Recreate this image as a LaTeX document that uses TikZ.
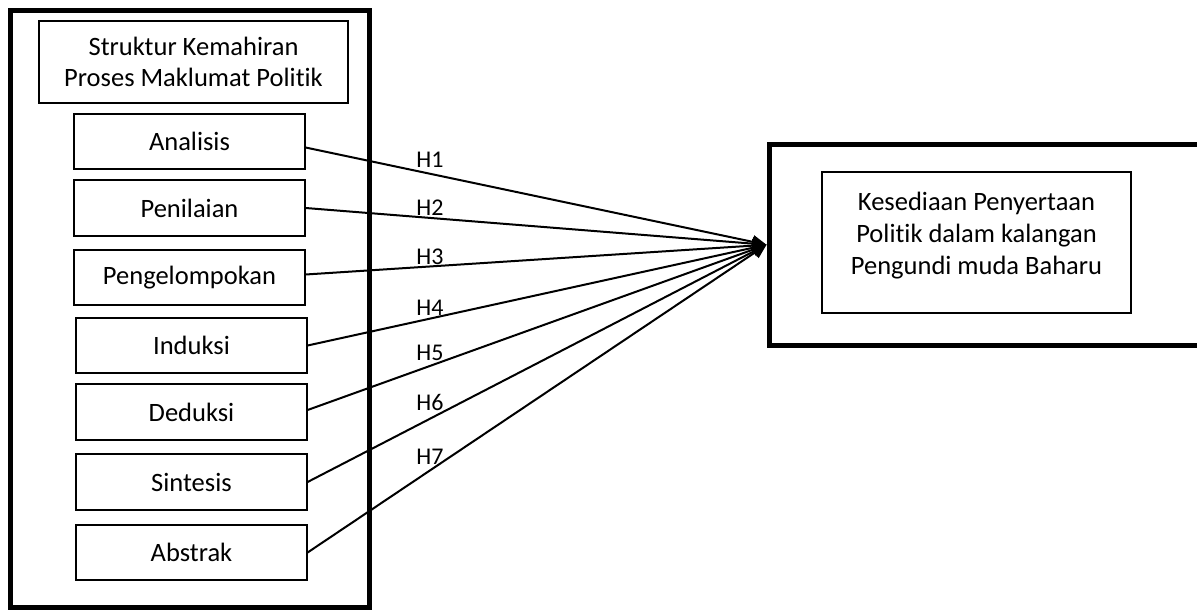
\documentclass[tikz,border=0pt]{standalone}
\usepackage{fontspec}
\setmainfont{Carlito}[Ligatures={NoCommon}]
\usetikzlibrary{arrows.meta}
\begin{document}
\begin{tikzpicture}[x=1pt,y=-1pt,
  thinbox/.style={draw, line width=1.2pt, minimum width=231pt, minimum height=55pt, inner sep=0pt, font=\fontsize{26.5}{31}\selectfont},
  thickbox/.style={draw, line width=5pt, inner sep=0pt},
  link/.style={line width=2pt, -{Triangle[length=14pt,width=13pt]}},
  hlab/.style={font=\fontsize{24}{28}\selectfont, inner sep=0pt},
  txt/.style={font=\fontsize{26.5}{32}\selectfont, align=center, inner sep=0pt}]
\useasboundingbox (0,0) rectangle (1197,610);
\clip (0,0) rectangle (1197,610);
% left outer frame
\node[thickbox, minimum width=358.5pt, minimum height=596.5pt] (left) at (189.75,308.75) {};
\node[thinbox, minimum width=309pt, minimum height=82pt, align=center] (title) at (193.5,62) {Struktur Kemahiran\\Proses Maklumat Politik};
\node[thinbox] (ana) at (189.5,141.5) {Analisis};
\node[thinbox, minimum height=56pt] (pen) at (189.5,208) {Penilaian};
\node[thinbox] (pkn) at (189.5,277.5) {Pengelompokan};
\node[thinbox] (ind) at (191.5,345.5) {Induksi};
\node[thinbox, minimum height=56pt] (ded) at (191.5,412) {Deduksi};
\node[thinbox, minimum height=56pt] (sin) at (191.5,482) {Sintesis};
\node[thinbox] (abs) at (191.5,552.5) {Abstrak};
% right frame
\node[thickbox, minimum width=446pt, minimum height=200.5pt] (out) at (992,244.75) {};
\node[thinbox, minimum width=309pt, minimum height=141pt] (kes) at (976.5,242.5) {};
\node[txt] (kestext) at (976.5,236) {Kesediaan Penyertaan\\Politik dalam kalangan\\Pengundi muda Baharu};
% connectors
\draw[link] ([yshift=-6pt]ana.east) -- (out.west);
\draw[link] (pen.east) -- (out.west);
\draw[link] ([yshift=3pt]pkn.east) -- (out.west);
\draw[link] (ind.east) -- (out.west);
\draw[link] ([yshift=2pt]ded.east) -- (out.west);
\draw[link] (sin.east) -- (out.west);
\draw[link] (abs.east) -- (out.west);
% labels
\node[hlab] (h1) at (430,160) {H1};
\node[hlab] (h2) at (430,208) {H2};
\node[hlab] (h3) at (430,257) {H3};
\node[hlab] (h4) at (430,308) {H4};
\node[hlab] (h5) at (430,353) {H5};
\node[hlab] (h6) at (430,402) {H6};
\node[hlab] (h7) at (430,457) {H7};
\end{tikzpicture}
\end{document}
